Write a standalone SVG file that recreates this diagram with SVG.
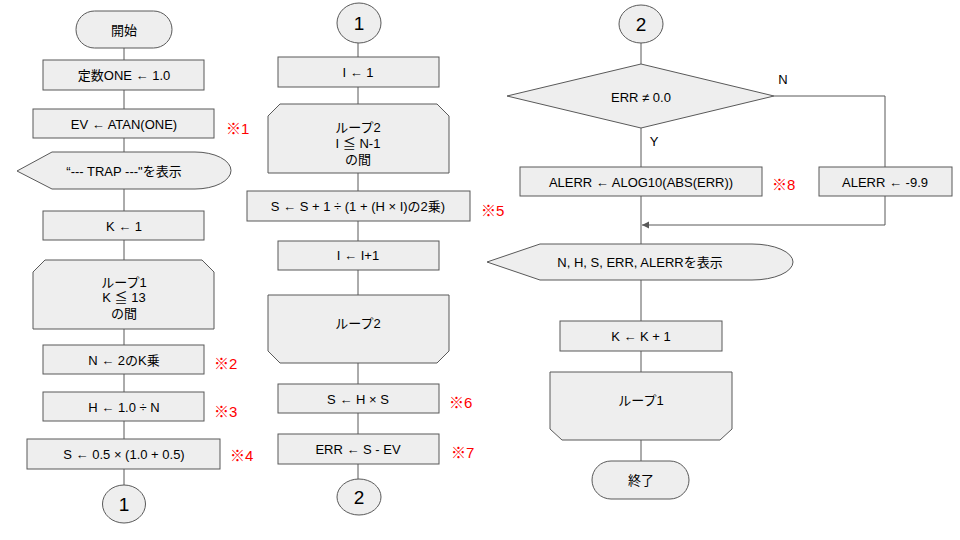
<svg xmlns="http://www.w3.org/2000/svg" width="960" height="540" viewBox="0 0 960 540">
<style>
.s{fill:#eeeeee;stroke:#595959;stroke-width:1}
.t{font-family:"Liberation Sans","Noto Sans CJK JP",sans-serif;font-size:13px;fill:#000;text-anchor:middle;dominant-baseline:central}
.c{font-size:19px}
.r{font-family:"Liberation Sans","Noto Sans CJK JP",sans-serif;font-size:15px;fill:#ff0000;dominant-baseline:central}
.l{fill:none;stroke:#595959;stroke-width:1}
</style>
<defs>
<marker id="ah" markerWidth="8" markerHeight="8" refX="7" refY="4" orient="auto" markerUnits="userSpaceOnUse">
<path d="M0,0.5 L7,4 L0,7.5 Z" fill="#595959"/>
</marker>
</defs>
<rect width="960" height="540" fill="#fff"/>
<g id="connectors">
<path class="l" d="M124,48V60M124,90V109M124,138V152M124,189V211M124,240V260M124,329V345M124,374V392M124,421V439M124,469V485"/>
<path class="l" d="M358,43V57M358,87V104M358,173V191M358,221V241M358,270V295M358,363V384M358,413V434M358,464V479"/>
<path class="l" d="M641,43V64M641,128V167M641,196V244M641,280V321M641,351V372M641,440V461"/>
<path class="l" d="M774,96H885V167"/>
<path class="l" d="M885,196V225H642" marker-end="url(#ah)"/>
<text class="t" x="783" y="79">N</text>
<text class="t" x="654" y="141">Y</text>
</g>
<g id="start"><rect class="s" x="76" y="11" width="96" height="37" rx="18.5"/><text class="t" x="124" y="30">開始</text></g>
<g id="n1"><rect class="s" x="43" y="60" width="161" height="30"/><text class="t" x="124" y="75">定数ONE ← 1.0</text></g>
<g id="n2"><rect class="s" x="33" y="109" width="181" height="29"/><text class="t" x="124" y="124">EV ← ATAN(ONE)</text><text class="r" x="226" y="128">※1</text></g>
<g id="n3"><path class="s" d="M17,171 L52,152 H195 A36,18.5 0 0 1 195,189 H52 Z"/><text class="t" x="124" y="171">“--- TRAP ---"を表示</text></g>
<g id="n4"><rect class="s" x="43" y="211" width="161" height="29"/><text class="t" x="124" y="226">K ← 1</text></g>
<g id="loop1s"><path class="s" d="M45,260 H202 L214,272 V329 H33 V272 Z"/><text class="t" x="124" y="282">ループ1</text><text class="t" x="124" y="297">K ≦ 13</text><text class="t" x="124" y="313">の間</text></g>
<g id="n5"><rect class="s" x="43" y="345" width="161" height="29"/><text class="t" x="124" y="360">N ← 2のK乗</text><text class="r" x="214" y="363">※2</text></g>
<g id="n6"><rect class="s" x="43" y="392" width="161" height="29"/><text class="t" x="124" y="407">H ← 1.0 ÷ N</text><text class="r" x="214" y="411">※3</text></g>
<g id="n7"><rect class="s" x="27" y="439" width="193" height="30"/><text class="t" x="124" y="454">S ← 0.5 × (1.0 + 0.5)</text><text class="r" x="230" y="455">※4</text></g>
<g id="c1a"><ellipse class="s" cx="124" cy="504" rx="21.5" ry="19"/><text class="t c" x="124" y="504">1</text></g>
<g id="c1b"><ellipse class="s" cx="359" cy="23" rx="22" ry="20"/><text class="t c" x="359" y="23">1</text></g>
<g id="m1"><rect class="s" x="278" y="57" width="161" height="30"/><text class="t" x="358" y="72">I ← 1</text></g>
<g id="loop2s"><path class="s" d="M280,104 H437 L449,116 V173 H268 V116 Z"/><text class="t" x="358" y="127">ループ2</text><text class="t" x="358" y="143">I ≦ N-1</text><text class="t" x="358" y="159">の間</text></g>
<g id="m2"><rect class="s" x="247" y="191" width="223" height="30"/><text class="t" x="358" y="206">S ← S + 1 ÷ (1 + (H × I)の2乗)</text><text class="r" x="481" y="210">※5</text></g>
<g id="m3"><rect class="s" x="278" y="241" width="161" height="29"/><text class="t" x="358" y="255">I ← I+1</text></g>
<g id="loop2e"><path class="s" d="M268,295 H449 V351 L437,363 H280 L268,351 Z"/><text class="t" x="358" y="323">ループ2</text></g>
<g id="m4"><rect class="s" x="278" y="384" width="161" height="29"/><text class="t" x="358" y="399">S ← H × S</text><text class="r" x="449" y="402">※6</text></g>
<g id="m5"><rect class="s" x="278" y="434" width="161" height="30"/><text class="t" x="358" y="449">ERR ← S - EV</text><text class="r" x="451" y="452">※7</text></g>
<g id="c2a"><ellipse class="s" cx="359" cy="497" rx="22" ry="18"/><text class="t c" x="359" y="497">2</text></g>
<g id="c2b"><ellipse class="s" cx="641" cy="24" rx="22" ry="19"/><text class="t c" x="641" y="24">2</text></g>
<g id="d1"><path class="s" d="M641,64 L774,96 L641,128 L507,96 Z"/><text class="t" x="641" y="97">ERR ≠ 0.0</text></g>
<g id="r1"><rect class="s" x="520" y="167" width="242" height="29"/><text class="t" x="641" y="182">ALERR ← ALOG10(ABS(ERR))</text><text class="r" x="772" y="184">※8</text></g>
<g id="r2"><rect class="s" x="819" y="167" width="133" height="29"/><text class="t" x="885" y="182">ALERR ← -9.9</text></g>
<g id="r3"><path class="s" d="M487,262 L540,244 H752 A41,18 0 0 1 752,280 H540 Z"/><text class="t" x="640" y="262">N, H, S, ERR, ALERRを表示</text></g>
<g id="r4"><rect class="s" x="560" y="321" width="162" height="30"/><text class="t" x="641" y="336">K ← K + 1</text></g>
<g id="loop1e"><path class="s" d="M550,372 H732 V429 L720,440 H562 L550,429 Z"/><text class="t" x="641" y="400">ループ1</text></g>
<g id="end"><rect class="s" x="592" y="461" width="97" height="38" rx="19"/><text class="t" x="641" y="480">終了</text></g>
</svg>
